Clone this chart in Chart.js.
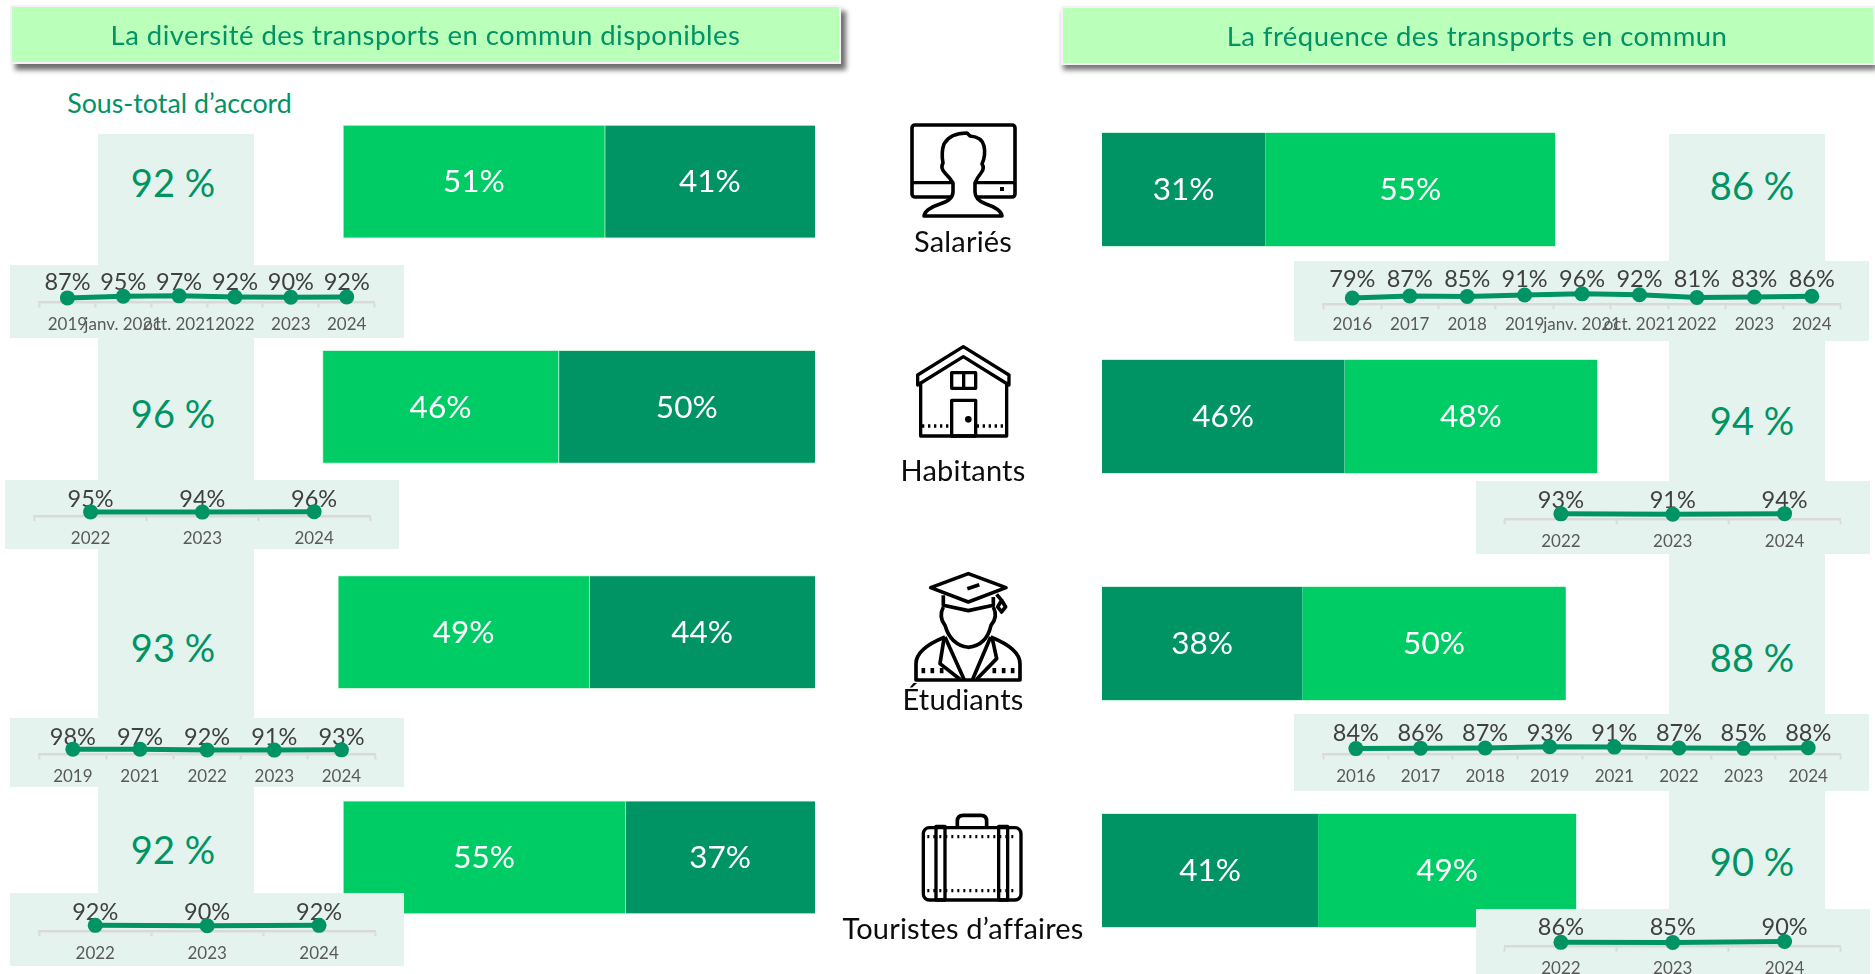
<!DOCTYPE html>
<html lang="fr"><head><meta charset="utf-8">
<script src="https://cdn.jsdelivr.net/npm/chart.js@4/dist/chart.umd.min.js"></script>
<style>
html,body{margin:0;padding:0;background:#fff;width:1875px;height:974px;overflow:hidden;font-family:Lato,sans-serif}
.abs{position:absolute}
.pale{position:absolute;background:#E5F3EE}
.title{position:absolute;background:#BAFFBA;border:2px solid #F8F0F8;box-sizing:border-box;color:#009364;font-size:27.5px;display:flex;align-items:center;justify-content:center;letter-spacing:.45px}
.txt{position:absolute;transform:translate(-50%,-50%);white-space:nowrap}
.big{color:#009364;font-size:38px}
.who{color:#0c0c0c;font-size:29px;letter-spacing:.2px}
canvas{position:absolute;display:block}
svg{position:absolute;left:0;top:0;pointer-events:none}
svg *{fill:none;stroke:#000;stroke-linejoin:round}
</style></head><body>
<div id="root"></div>
<svg width="1875" height="974" viewBox="0 0 1875 974" style="z-index:6">
  <!-- Salariés -->
  <rect x="912" y="125" width="103" height="72" rx="3" stroke-width="3.6"/>
  <line x1="912" y1="182.7" x2="1015" y2="182.7" stroke-width="3.2"/>
  <rect x="1000" y="187" width="4" height="4" style="fill:#000;stroke:none"/>
  <path d="M924 216 L1002 216 Q1001 209 986 204 Q975 200 975 192 L975 183 Q977 178 981 173 Q985 168 982 164 Q986 155 984 146 Q982 137 970 136 L967 133 Q950 133 944 144 Q941 152 943 163 Q940 168 945 173 Q950 178 953 183 L953 192 Q953 200 940 204 Q925 209 924 216 Z" stroke-width="3.6" style="fill:#fff;stroke:#000"/>
  <!-- Habitants -->
  <g transform="translate(860,340) scale(.3333)" stroke-width="10">
    <path d="M173 105 L310 20 L447 105 L447 135 L310 50 L173 135 Z"/>
    <path d="M182 125 V288 H440 V125"/>
    <rect x="275" y="98" width="72" height="47"/><line x1="311" y1="98" x2="311" y2="145"/>
    <rect x="275" y="181" width="72" height="107"/>
    <circle cx="325" cy="238" r="5" style="fill:#000"/>
    <line x1="186" y1="258" x2="272" y2="258" stroke-dasharray="7 11"/>
    <line x1="350" y1="258" x2="436" y2="258" stroke-dasharray="7 11"/>
  </g>
  <!-- Étudiants -->
  <g transform="translate(860,342) scale(.3333)" stroke-width="11">
    <path d="M212 737 L325 695 L438 737 L325 780 Z"/>
    <line x1="322" y1="740" x2="358" y2="728"/>
    <path d="M410 757 L425 775 M425 775 L437 795 L425 810 L413 795 Z"/>
    <path d="M250 760 V790 L325 806 L400 790 V765"/>
    <path d="M250 795 Q235 825 255 850 Q272 910 325 916 Q380 910 393 850 Q415 825 400 795"/>
    <path d="M255 885 Q168 920 168 965 V1014 H480 V965 Q480 920 392 885"/>
    <path d="M255 885 L312 1012 M392 885 L338 1012"/>
    <path d="M252 890 L240 965 L300 1012 M397 890 L410 950 L350 1012"/>
    <path d="M190 978 V994 M217 978 V994 M245 978 V994 M403 978 V994 M431 978 V994 M458 978 V994"/>
  </g>
  <!-- Touristes -->
  <g transform="translate(820,720) scale(.3333)" stroke-width="10">
    <rect x="310" y="323" width="293" height="217" rx="18"/>
    <path d="M412 320 V303 Q412 286 430 286 H483 Q500 286 500 303 V320" stroke-width="11"/>
    <rect x="348" y="319" width="27" height="221"/><rect x="536" y="319" width="27" height="221"/>
    <line x1="322" y1="350" x2="592" y2="350" stroke-dasharray="6 12"/>
    <line x1="322" y1="512" x2="592" y2="512" stroke-dasharray="6 12"/>
  </g>
</svg>
<script>
// ---- data ----
const groups = ['Salariés', 'Habitants', 'Étudiants', 'Touristes d’affaires'];
const diversityLight = [51, 46, 49, 55];
const diversityDark = [41, 50, 44, 37];
const frequencyDark = [31, 46, 38, 41];
const frequencyLight = [55, 48, 50, 49];
const diversityTotals = [92, 96, 93, 92];
const frequencyTotals = [86, 94, 88, 90];

const divSalYears = ['2019', 'janv. 2021', 'oct. 2021', '2022', '2023', '2024'];
const divSalValues = [87, 95, 97, 92, 90, 92];
const divHabYears = ['2022', '2023', '2024'];
const divHabValues = [95, 94, 96];
const divEtuYears = ['2019', '2021', '2022', '2023', '2024'];
const divEtuValues = [98, 97, 92, 91, 93];
const divTouYears = ['2022', '2023', '2024'];
const divTouValues = [92, 90, 92];

const freqSalYears = ['2016', '2017', '2018', '2019', 'janv. 2021', 'oct. 2021', '2022', '2023', '2024'];
const freqSalValues = [79, 87, 85, 91, 96, 92, 81, 83, 86];
const freqHabYears = ['2022', '2023', '2024'];
const freqHabValues = [93, 91, 94];
const freqEtuYears = ['2016', '2017', '2018', '2019', '2021', '2022', '2023', '2024'];
const freqEtuValues = [84, 86, 87, 93, 91, 87, 85, 88];
const freqTouYears = ['2022', '2023', '2024'];
const freqTouValues = [86, 85, 90];

// ---- styles ----
const DARK = '#009364', LIGHT = '#00CC66', FONT = 'Lato, sans-serif';
const root = document.getElementById('root');
function el(cls, css, text) {
  const d = document.createElement('div'); d.className = cls;
  Object.assign(d.style, css); if (text) d.textContent = text; root.appendChild(d); return d;
}
const px = n => n + 'px';
function box(cls, x, y, w, h, z, text) {
  return el(cls, {left: px(x), top: px(y), width: px(w), height: px(h), zIndex: z}, text);
}
function canvas(x, y, w, h, z) {
  const c = document.createElement('canvas');
  c.width = w; c.height = h; c.style.left = px(x); c.style.top = px(y);
  c.style.width = px(w); c.style.height = px(h); c.style.zIndex = z;
  root.appendChild(c); return c;
}

// titles
const t1 = box('title', 10, 5, 831, 59, 3, 'La diversité des transports en commun disponibles');
t1.style.boxShadow = '5px 6px 5px #6f6f6f';
const t2 = box('title', 1061, 6, 814, 59, 3, 'La fréquence des transports en commun');
t2.style.boxShadow = '2px 5px 5px #777';
t2.style.paddingLeft = '18px';
el('txt', {left: '179.5px', top: '103px', color: DARK, fontSize: '26.8px', zIndex: 3}, 'Sous-total d’accord');

// pale columns
box('pale', 98, 134, 156, 760, 1);
box('pale', 1669, 134, 156, 776, 1);

// big totals
const bigLeftY = [182, 413, 647, 849], bigRightY = [185, 420, 657, 861];
diversityTotals.forEach((v, i) => el('txt big', {left: '173px', top: px(bigLeftY[i]), zIndex: 2}, v + ' %'));
frequencyTotals.forEach((v, i) => el('txt big', {left: '1752px', top: px(bigRightY[i]), zIndex: 2}, v + ' %'));

// group names
const whoY = [240, 469, 698, 926.5];
groups.forEach((g, i) => el('txt who', {left: '963px', top: px(whoY[i]), zIndex: 7}, g));

// stacked bars
const barLabels = {
  id: 'barLabels',
  afterDatasetsDraw(chart) {
    const {ctx} = chart; ctx.save();
    ctx.fillStyle = '#fff'; ctx.textAlign = 'center'; ctx.textBaseline = 'middle';
    ctx.font = '31.5px ' + FONT;
    chart.data.datasets.forEach((ds, di) => {
      chart.getDatasetMeta(di).data.forEach((b, i) => {
        ctx.fillText(ds.data[i] + '%', (b.x + b.base) / 2, b.y + 0.5);
      });
    });
    ctx.restore();
  }
};
function bars(x, y, w, h, thick, first, second, firstColor, secondColor, reverse) {
  return new Chart(canvas(x, y, w, h, 2), {
    type: 'bar',
    data: {labels: groups, datasets: [
      {label: 'a', data: first, backgroundColor: firstColor, barThickness: thick, borderWidth: {left: 1, right: 0, top: 1, bottom: 1}, borderColor: 'rgba(120,230,170,.4)'},
      {label: 'b', data: second, backgroundColor: secondColor, barThickness: thick, borderWidth: {left: 1, right: 0, top: 1, bottom: 1}, borderColor: 'rgba(120,230,170,.4)'}
    ]},
    options: {
      indexAxis: 'y', responsive: false, animation: false, devicePixelRatio: 1,
      layout: {padding: 0},
      plugins: {legend: {display: false}, tooltip: {enabled: false}},
      scales: {
        x: {display: false, stacked: true, min: 0, max: 100, reverse},
        y: {display: false, stacked: true}
      }
    },
    plugins: [barLabels]
  });
}
bars(302, 68.5, 513, 901, 113, diversityDark, diversityLight, DARK, LIGHT, true);
bars(1102, 75.5, 527, 908, 114.5, frequencyDark, frequencyLight, DARK, LIGHT, false);

// trend strips
const valueLabels = {
  id: 'valueLabels',
  beforeDatasetsDraw(chart, args, opts) {
    const {ctx} = chart; ctx.save();
    ctx.fillStyle = '#404040'; ctx.textAlign = 'center'; ctx.textBaseline = 'middle';
    ctx.font = '23.5px ' + FONT;
    const y = chart.chartArea.bottom - opts.rise;
    chart.getDatasetMeta(0).data.forEach((p, i) => {
      ctx.fillText(chart.data.datasets[0].data[i] + '%', p.x, y);
    });
    ctx.restore();
  }
};
function strip(x, y, w, h, axisL, axisR, axisY, yMin, k, rise, pad, labels, values) {
  box('pale', x, y, w, h, 3);
  const plotH = axisY - y;
  new Chart(canvas(x, y, w, h, 4), {
    type: 'line',
    data: {labels, datasets: [{data: values, borderColor: DARK, backgroundColor: DARK, borderWidth: 5, pointRadius: 7.5, pointBackgroundColor: DARK, pointBorderWidth: 0, tension: 0, clip: false}]},
    options: {
      responsive: false, animation: false, devicePixelRatio: 1,
      layout: {padding: {left: axisL - x, right: x + w - axisR, top: 0, bottom: 0}},
      plugins: {legend: {display: false}, tooltip: {enabled: false}, valueLabels: {rise}},
      scales: {
        x: {
          type: 'category', offset: true,
          afterFit: s => { s.height = h - plotH; },
          border: {color: '#D9D9D9', width: 2.5},
          grid: {drawOnChartArea: false, drawTicks: true, offset: true, tickLength: 5, tickWidth: 2, tickColor: '#D9D9D9', color: '#D9D9D9'},
          ticks: {color: '#595959', font: {family: FONT, size: 17}, autoSkip: false, maxRotation: 0, minRotation: 0, padding: pad}
        },
        y: {display: false, min: yMin, max: yMin + plotH / k}
      }
    },
    plugins: [valueLabels]
  });
}
strip(10, 265, 394, 73, 39.5, 374.6, 302.5, 65, .26, 20, 7, divSalYears, divSalValues);
strip(5, 480, 394, 69, 34.7, 370, 516, 75, .26, 17, 7, divHabYears, divHabValues);
strip(10, 718, 394, 69, 39.3, 375, 754.3, 60, .17, 17.3, 7, divEtuYears, divEtuValues);
strip(10, 893, 394, 73, 39.3, 375, 931, 65, .26, 18.3, 7, divTouYears, divTouValues);
strip(1294, 261, 575, 80, 1323.6, 1840.5, 304.3, 53, .294, 25, 5, freqSalYears, freqSalValues);
strip(1476, 481, 394, 73, 1505, 1840.5, 519.3, 67, .26, 19.3, 7, freqHabYears, freqHabValues);
strip(1294, 714, 575, 77, 1323.6, 1840.5, 754.3, 57, .26, 20.6, 7, freqEtuYears, freqEtuValues);
strip(1476, 909, 394, 65, 1505, 1840.5, 946.7, 65, .26, 19, 7, freqTouYears, freqTouValues);
</script>
</body></html>
